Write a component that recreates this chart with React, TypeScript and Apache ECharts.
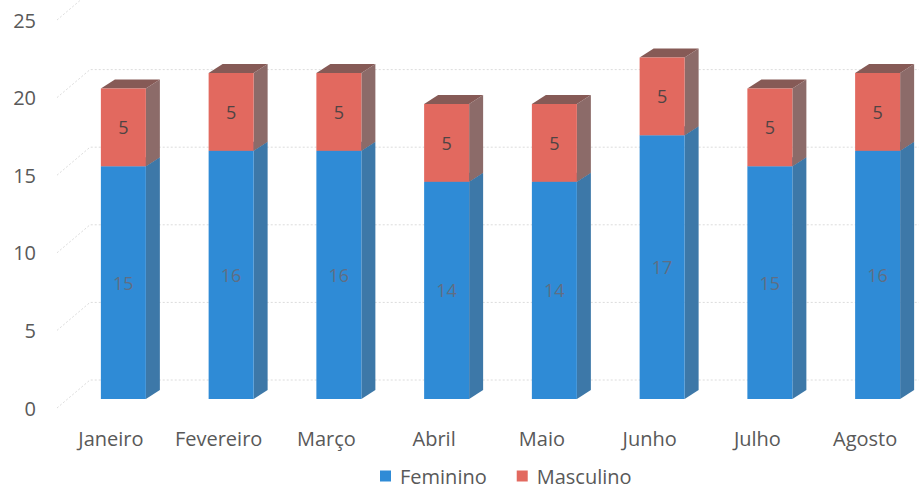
import React, { useEffect, useRef } from "react";
import * as echarts from "echarts";

const categories = ["Janeiro", "Fevereiro", "Março", "Abril", "Maio", "Junho", "Julho", "Agosto"];
const feminino = [15, 16, 16, 14, 14, 17, 15, 16];
const masculino = [5, 5, 5, 5, 5, 5, 5, 5];
const yTicks = [0, 5, 10, 15, 20, 25];

const FONT = "'Open Sans', Lato, sans-serif";

const palette = {
  Feminino: { front: "#2f8bd6", side: "#3d78a8", top: "#3a6e9a", label: "#5f6e84" },
  Masculino: { front: "#e2695f", side: "#8c6b69", top: "#865a56", label: "#4f4444" },
};

function makeBarRender(key: "Feminino" | "Masculino") {
  const c = palette[key];
  return (params: any, api: any) => {
    const i = api.value(0);
    const base = api.value(1);
    const v = api.value(2);
    const top = api.coord([i, base + v]);
    const bot = api.coord([i, base]);
    const w = 45;
    const sx = 12.5;
    const lift = 9;
    const dx = 14;
    const dy = 9;
    const x0 = top[0] + sx - w / 2;
    const x1 = x0 + w;
    const yT = top[1] - lift;
    const yB = bot[1] - lift;
    return {
      type: "group",
      children: [
        {
          type: "polygon",
          shape: { points: [[x1, yT], [x1 + dx, yT - dy], [x1 + dx, yB - dy], [x1, yB]] },
          style: { fill: c.side },
        },
        {
          type: "polygon",
          shape: { points: [[x0, yT], [x0 + dx, yT - dy], [x1 + dx, yT - dy], [x1, yT]] },
          style: { fill: c.top },
        },
        {
          type: "rect",
          shape: { x: x0, y: yT, width: w, height: yB - yT },
          style: { fill: c.front },
        },
        {
          type: "text",
          style: {
            text: String(v),
            x: (x0 + x1) / 2,
            y: (yT + yB) / 2,
            align: "center",
            verticalAlign: "middle",
            fill: c.label,
            fontSize: 18,
            fontFamily: FONT,
          },
        },
      ],
    };
  };
}

function gridRender(params: any, api: any) {
  const v = api.value(1);
  const p = api.coord([0, v]);
  const pr = api.coord([categories.length - 1, v]);
  const band = api.size([1, 0])[0];
  const xl = p[0] - band / 2;
  const xr = pr[0] + band / 2 + 40;
  return {
    type: "polyline",
    shape: { points: [[xl, p[1]], [xl + 33, p[1] - 28], [xr, p[1] - 28]] },
    style: { stroke: "#dcdcdc", lineWidth: 1, lineDash: [2, 2], fill: "none" },
  };
}

export default function App() {
  const ref = useRef<HTMLDivElement>(null);
  useEffect(() => {
    if (!ref.current) return;
    const chart = echarts.init(ref.current, null, { renderer: "svg" });
    const femData = feminino.map((v, i) => [i, 0, v]);
    const mascData = masculino.map((v, i) => [i, feminino[i], v]);
    chart.setOption({
      animation: false,
      backgroundColor: "#ffffff",
      grid: { left: 57, right: -18, top: 20, bottom: 83 },
      legend: {
        data: [
          { name: "Feminino", icon: "rect", itemStyle: { color: palette.Feminino.front } },
          { name: "Masculino", icon: "rect", itemStyle: { color: palette.Masculino.front } },
        ],
        left: 380,
        bottom: 5,
        padding: 0,
        itemWidth: 11,
        itemHeight: 11,
        itemGap: 30,
        textStyle: {
          color: "#595959",
          fontSize: 20,
          lineHeight: 20,
          fontFamily: FONT,
          padding: [0, 0, 0, 4],
        },
      },
      xAxis: {
        type: "category",
        data: categories,
        boundaryGap: true,
        axisLine: { show: false },
        axisTick: { show: false },
        axisLabel: { color: "#595959", fontSize: 20, fontFamily: FONT, margin: 20, interval: 0 },
      },
      yAxis: {
        type: "value",
        min: 0,
        max: 25,
        interval: 5,
        axisLine: { show: false },
        axisTick: { show: false },
        splitLine: { show: false },
        axisLabel: { color: "#595959", fontSize: 20, fontFamily: FONT, margin: 21 },
      },
      series: [
        {
          type: "custom",
          name: "grid",
          silent: true,
          clip: false,
          z: 1,
          renderItem: gridRender,
          data: yTicks.map((t) => [0, t]),
          encode: { x: 0, y: 1 },
        },
        {
          type: "custom",
          name: "Feminino",
          clip: false,
          z: 2,
          itemStyle: { color: palette.Feminino.front },
          renderItem: makeBarRender("Feminino"),
          data: femData,
          encode: { x: 0, y: [1, 2] },
        },
        {
          type: "custom",
          name: "Masculino",
          clip: false,
          z: 3,
          itemStyle: { color: palette.Masculino.front },
          renderItem: makeBarRender("Masculino"),
          data: mascData,
          encode: { x: 0, y: [1, 2] },
        },
      ],
    });
    return () => chart.dispose();
  }, []);
  return (
    <div
      ref={ref}
      style={{ position: "fixed", left: 0, top: 0, width: 919, height: 491, overflow: "hidden" }}
    />
  );
}
